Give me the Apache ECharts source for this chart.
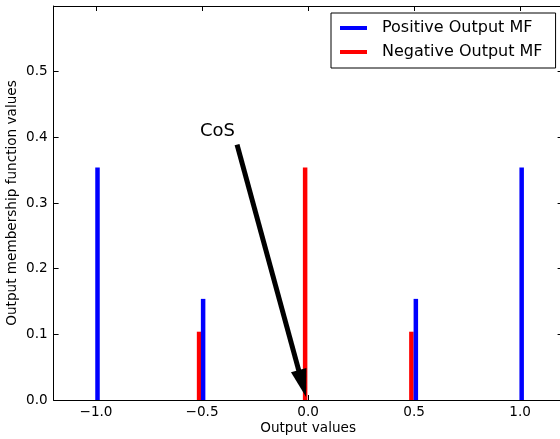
<!DOCTYPE html>
<html>
<head>
<meta charset="utf-8">
<script src="https://cdn.jsdelivr.net/npm/echarts@6/dist/echarts.min.js"></script>
<style>
  html, body { margin: 0; padding: 0; background: #fff; }
  #main { width: 560px; height: 439px; }
</style>
</head>
<body>
<div id="main"></div>
<script>
// output values (x) and membership values (y)
const positiveX = [-0.993, -0.495, 0.508, 1.007];
const positiveY = [0.354, 0.154, 0.154, 0.354];
const negativeX = [-0.514, -0.014, 0.487];
const negativeY = [0.104, 0.354, 0.104];
const xTicks = [-1.0, -0.5, 0.0, 0.5, 1.0];
const yTicks = [0.0, 0.1, 0.2, 0.3, 0.4, 0.5];
// annotation "CoS" and arrow (data coords)
const cosText = [-0.427, 0.409];
const arrowFrom = [-0.335, 0.389];
const arrowTo = [-0.027, 0.025];

const font = "DejaVu Sans";
const fmt = v => (v < 0 ? "\u2212" : "") + Math.abs(v).toFixed(1);

const myChart = echarts.init(document.getElementById("main"));

const axisLine = { show: true, onZero: false, lineStyle: { color: "#000", width: 1 } };
const tick = vals => ({ show: true, inside: true, length: 5, lineStyle: { color: "#000" }, customValues: vals });

const option = {
  animation: false,
  backgroundColor: "#fff",
  grid: { left: 53.6, top: 6, width: 509, height: 394, outerBoundsMode: "none", containLabel: false },
  legend: {
    left: 331, top: 13,
    orient: "vertical",
    data: ["Positive Output MF", "Negative Output MF"],
    backgroundColor: "#fff",
    borderColor: "#000", borderWidth: 1, borderRadius: 0,
    padding: [7, 13, 8, 9],
    itemGap: 8,
    itemWidth: 27, itemHeight: 4,
    icon: "rect",
    textStyle: { fontFamily: font, fontSize: 16, color: "#000", padding: [0, 0, 0, 10] }
  },
  xAxis: [
    {
      type: "value", min: -1.2, max: 1.2,
      name: "Output values", nameLocation: "middle", nameGap: 21, nameMoveOverlap: false,
      nameTextStyle: { fontFamily: font, fontSize: 13.6, color: "#000" },
      axisLine: axisLine, axisTick: tick(xTicks), splitLine: { show: false },
      axisLabel: { customValues: xTicks, formatter: fmt, fontFamily: font, fontSize: 13.6, color: "#000", margin: 5 }
    },
    {
      type: "value", position: "top", min: -1.2, max: 1.2,
      axisLine: axisLine, axisTick: tick(xTicks), splitLine: { show: false },
      axisLabel: { show: false }
    }
  ],
  yAxis: [
    {
      type: "value", min: 0, max: 0.6,
      name: "Output membership function values", nameLocation: "middle", nameGap: 34, nameMoveOverlap: false,
      nameTextStyle: { fontFamily: font, fontSize: 13.6, color: "#000" },
      axisLine: axisLine, axisTick: tick(yTicks), splitLine: { show: false },
      axisLabel: { customValues: yTicks, formatter: v => v.toFixed(1), fontFamily: font, fontSize: 13.6, color: "#000", margin: 6 }
    },
    {
      type: "value", position: "right", min: 0, max: 0.6,
      axisLine: axisLine, axisTick: tick(yTicks), splitLine: { show: false },
      axisLabel: { show: false }
    }
  ],
  series: [
    {
      name: "Positive Output MF", type: "bar",
      barWidth: 4.5, barGap: "-100%",
      itemStyle: { color: "#0000ff" },
      data: positiveX.map((x, i) => [x, positiveY[i]]),
      z: 3
    },
    {
      name: "Negative Output MF", type: "bar",
      barWidth: 4.5, barGap: "-100%",
      itemStyle: { color: "#ff0000" },
      data: negativeX.map((x, i) => [x, negativeY[i]]),
      z: 2,
      markLine: {
        silent: true,
        symbol: ["none", "triangle"],
        symbolSize: [16, 28],
        lineStyle: { color: "#000", width: 5, type: "solid" },
        label: { show: false },
        data: [[{ coord: arrowFrom }, { coord: arrowTo }]]
      },
      markPoint: {
        silent: true,
        symbol: "circle", symbolSize: 0,
        label: { show: true, position: "inside", formatter: "CoS", fontFamily: font, fontSize: 18, color: "#000" },
        data: [{ coord: cosText }]
      }
    }
  ]
};

myChart.setOption(option);
</script>
</body>
</html>
